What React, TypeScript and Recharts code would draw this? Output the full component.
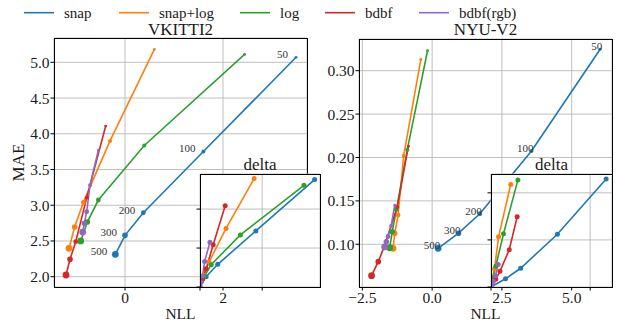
import { LineChart, Line, XAxis, YAxis, CartesianGrid } from 'recharts'

const W = 635
const H = 322
const FONT = "'Liberation Serif', 'Times New Roman', serif"
const INK = '#1a1a1a'

const SAMPLES = [50, 100, 200, 300, 500]
const NAMES = ['snap', 'snap+log', 'log', 'bdbf', 'bdbf(rgb)']
const COLORS = ['#1f77b4', '#ff7f0e', '#2ca02c', '#d62728', '#9467bd']

// [NLL, MAE] for each entry of SAMPLES
const VK_SNAP = [[3.49, 5.07], [1.6, 3.752], [0.374, 2.895], [0.0, 2.579], [-0.197, 2.313]]
const VK_SNAP_LOG = [[0.599, 5.18], [-0.306, 3.9], [-0.85, 3.04], [-1.027, 2.695], [-1.143, 2.397]]
const VK_LOG = [[2.44, 5.11], [0.394, 3.836], [-0.544, 3.073], [-0.769, 2.765], [-0.904, 2.5]]
const VK_BDBF = [[-0.394, 4.108], [-0.78, 3.11], [-1.006, 2.49], [-1.122, 2.243], [-1.204, 2.024]]
const VK_BDBF_RGB = [[-0.544, 3.772], [-0.714, 3.28], [-0.782, 2.909], [-0.83, 2.747], [-0.863, 2.625]]

const NYU_SNAP = [[6.02, 0.3247], [3.56, 0.2075], [1.71, 0.1352], [0.945, 0.1128], [0.215, 0.0954]]
const NYU_SNAP_LOG = [[-0.405, 0.313], [-1.02, 0.202], [-1.22, 0.1337], [-1.34, 0.1127], [-1.4, 0.0954]]
const NYU_LOG = [[-0.165, 0.323], [-0.89, 0.209], [-1.28, 0.14], [-1.43, 0.1145], [-1.52, 0.096]]
const NYU_BDBF = [[-0.85, 0.213], [-1.25, 0.143], [-1.72, 0.097], [-1.93, 0.08], [-2.17, 0.0638]]
const NYU_BDBF_RGB = [[-1.34, 0.145], [-1.47, 0.121], [-1.58, 0.109], [-1.64, 0.103], [-1.7, 0.097]]

const VK_X_TICKS = [0, 2]
const VK_Y_TICKS = [2, 2.5, 3, 3.5, 4, 4.5, 5]
const NYU_X_TICKS = [-2.5, 0, 2.5, 5]
const NYU_Y_TICKS = [0.1, 0.15, 0.2, 0.25, 0.3]
const VK_DELTA_X_TICKS = [0, 2]
const VK_DELTA_Y_TICKS = [0, 1, 2]
const NYU_DELTA_X_TICKS = [0, 5]
const NYU_DELTA_Y_TICKS = [0, 0.1, 0.2]

const LEGEND_X = [24, 119, 240, 325, 419]

const RADIUS: Record<number, number> = { 50: 1.4, 100: 2, 200: 2.4, 300: 2.8, 500: 3.4 }

type Box = { l: number; t: number; r: number; b: number }

// inset shows the change relative to the 500-sample point
const toDelta = (pts: number[][]) => {
  const [bx, by] = pts[pts.length - 1]
  return pts.map(([x, y]) => [x - bx, y - by])
}
const toRows = (pts: number[][]) => pts.map(([x, y], i) => ({ x, y, n: SAMPLES[i] }))
const fmt = (d: number) => (v: number) => v.toFixed(d).replace('-', '\u2212')
const blank = () => ''

interface PanelProps {
  box: Box
  series: number[][][]
  xDomain: [number, number]
  yDomain: [number, number]
  xTicks: number[]
  yTicks: number[]
  fmtX: (v: number) => string
  fmtY: (v: number) => string
  inset?: boolean
  labelDx?: number
}

function Panel({ box, series, xDomain, yDomain, xTicks, yTicks, fmtX, fmtY, inset, labelDx }: PanelProps) {
  const XH = 30
  const tick = { fill: INK, fontSize: 15.5, fontFamily: FONT }
  return (
    <div style={{ position: 'absolute', left: 0, top: 0, width: W, height: H }}>
      <LineChart
        width={W}
        height={H}
        margin={{ top: box.t, right: W - box.r, bottom: H - box.b - XH, left: 0 }}
      >
        <CartesianGrid stroke="#b8b8b8" strokeWidth={0.9} fill={inset ? '#ffffff' : 'none'} fillOpacity={1} />
        <XAxis
          type="number"
          dataKey="x"
          domain={xDomain}
          ticks={xTicks}
          allowDataOverflow
          height={XH}
          axisLine={false}
          tickLine={{ stroke: '#000' }}
          tickSize={3.5}
          tickMargin={1}
          tick={tick}
          tickFormatter={inset ? blank : fmtX}
          interval={0}
        />
        <YAxis
          type="number"
          dataKey="y"
          domain={yDomain}
          ticks={yTicks}
          allowDataOverflow
          width={box.l}
          axisLine={false}
          tickLine={{ stroke: '#000' }}
          tickSize={3.5}
          tickMargin={1}
          tick={tick}
          tickFormatter={inset ? blank : fmtY}
          interval={0}
        />
        {series.map((pts, i) => (
          <Line
            key={NAMES[i]}
            data={toRows(pts)}
            dataKey="y"
            stroke={COLORS[i]}
            strokeWidth={1.6}
            isAnimationActive={false}
            dot={(p: any) => (
              <g key={`${NAMES[i]}-${p.index}`}>
                <circle cx={p.cx} cy={p.cy} r={inset ? 2.5 : RADIUS[p.payload.n]} fill={COLORS[i]} />
                {i === 0 && labelDx !== undefined && (
                  <text
                    x={p.cx + labelDx}
                    y={p.cy + 1}
                    textAnchor="end"
                    fontSize={11}
                    fontFamily={FONT}
                    fill="#333"
                  >
                    {p.payload.n}
                  </text>
                )}
              </g>
            )}
            activeDot={false}
          />
        ))}
      </LineChart>
      <div
        style={{
          position: 'absolute',
          left: box.l,
          top: box.t,
          width: box.r - box.l + 1,
          height: box.b - box.t + 1,
          border: '1px solid #000',
          boxSizing: 'border-box',
          pointerEvents: 'none',
        }}
      />
    </div>
  )
}

export default function App() {
  const vk = [VK_SNAP, VK_SNAP_LOG, VK_LOG, VK_BDBF, VK_BDBF_RGB]
  const nyu = [NYU_SNAP, NYU_SNAP_LOG, NYU_LOG, NYU_BDBF, NYU_BDBF_RGB]
  return (
    <div style={{ position: 'fixed', left: 0, top: 0, width: W, height: H, background: '#fff', overflow: 'hidden' }}>
      <Panel
        box={{ l: 54, t: 38, r: 307, b: 287 }}
        series={vk}
        xDomain={[-1.449, 3.714]}
        yDomain={[1.856, 5.34]}
        xTicks={VK_X_TICKS}
        yTicks={VK_Y_TICKS}
        fmtX={fmt(0)}
        fmtY={fmt(1)}
        labelDx={-8}
      />
      <Panel
        box={{ l: 200, t: 174, r: 320, b: 287 }}
        series={vk.map(toDelta)}
        xDomain={[0, 3.86]}
        yDomain={[0, 2.9]}
        xTicks={VK_DELTA_X_TICKS}
        yTicks={VK_DELTA_Y_TICKS}
        fmtX={blank}
        fmtY={blank}
        inset
      />
      <Panel
        box={{ l: 359, t: 39, r: 612, b: 287 }}
        series={nyu}
        xDomain={[-2.62, 6.444]}
        yDomain={[0.0508, 0.3365]}
        xTicks={NYU_X_TICKS}
        yTicks={NYU_Y_TICKS}
        fmtX={fmt(1)}
        fmtY={fmt(2)}
        labelDx={2}
      />
      <Panel
        box={{ l: 491, t: 174, r: 612, b: 287 }}
        series={nyu.map(toDelta)}
        xDomain={[0, 6.1]}
        yDomain={[0, 0.24]}
        xTicks={NYU_DELTA_X_TICKS}
        yTicks={NYU_DELTA_Y_TICKS}
        fmtX={blank}
        fmtY={blank}
        inset
      />
      <svg width={W} height={H} style={{ position: 'absolute', left: 0, top: 0, pointerEvents: 'none' }}>
        <g fontFamily={FONT} fill={INK}>
          {NAMES.map((name, i) => (
            <g key={name}>
              <line x1={LEGEND_X[i]} x2={LEGEND_X[i] + 30} y1={12.7} y2={12.7} stroke={COLORS[i]} strokeWidth={1.6} />
              <text x={LEGEND_X[i] + 40} y={18} fontSize={15}>{name}</text>
            </g>
          ))}
          <text x={180.5} y={35} fontSize={17} textAnchor="middle">VKITTI2</text>
          <text x={485.5} y={35} fontSize={17} textAnchor="middle">NYU-V2</text>
          <text x={260} y={170} fontSize={17} textAnchor="middle">delta</text>
          <text x={551.5} y={170} fontSize={17} textAnchor="middle">delta</text>
          <text x={180.5} y={318.6} fontSize={15.5} textAnchor="middle">NLL</text>
          <text x={485.5} y={318.6} fontSize={15.5} textAnchor="middle">NLL</text>
          <text x={24} y={162.5} fontSize={17} textAnchor="middle" transform="rotate(-90 24 162.5)">MAE</text>
        </g>
      </svg>
    </div>
  )
}
